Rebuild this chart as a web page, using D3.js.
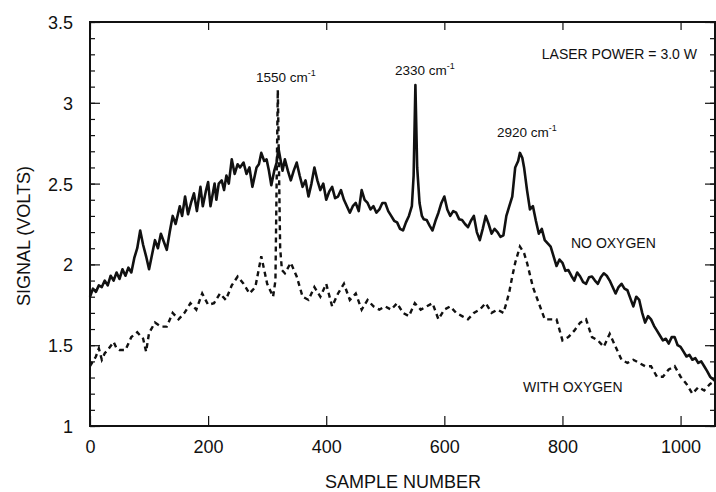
<!DOCTYPE html>
<html>
<head>
<meta charset="utf-8">
<script src="https://cdn.jsdelivr.net/npm/d3@7"></script>
<style>
  body { margin: 0; background: #fff; }
  text { font-family: "Liberation Sans", Arial, sans-serif; fill: #111; }
</style>
</head>
<body>
<div id="chart"></div>
<script>
// values
const noOxygenSamples = [0,5,10,15,20,25,30,35,40,45,50,55,60,65,70,75,80,85,90,95,100,105,110,115,120,125,130,135,140,145,152,156,161,166,171,176,181,187,191,196,200,204,211,214,218,223,227,231,235,240,245,250,254,260,265,270,275,282,286,290,295,299,303,307,312,316,319,322,326,330,335,340,345,350,355,360,365,370,375,380,385,390,395,400,405,410,415,420,425,430,435,440,445,450,455,460,465,470,475,480,485,490,495,500,505,510,515,520,525,530,535,540,545,548,551,554,558,562,565,570,575,580,585,590,595,600,605,610,615,620,625,630,635,640,645,650,655,660,665,670,675,680,685,690,695,700,705,710,715,720,725,728,732,735,740,745,750,755,760,765,770,775,780,785,790,795,800,805,810,815,820,825,830,835,840,845,850,855,860,865,870,875,880,885,890,895,900,905,910,915,920,925,930,935,940,945,950,955,960,965,970,975,980,985,990,995,1000,1005,1010,1015,1020,1025,1030,1035,1040,1045,1050,1055,1058];
const noOxygenSignal = [1.80,1.85,1.83,1.87,1.86,1.90,1.87,1.93,1.90,1.95,1.91,1.97,1.93,1.98,1.95,2.04,2.10,2.21,2.12,2.05,1.97,2.06,2.15,2.10,2.19,2.14,2.09,2.20,2.30,2.25,2.36,2.30,2.42,2.31,2.38,2.44,2.33,2.48,2.36,2.45,2.51,2.36,2.50,2.40,2.50,2.52,2.46,2.55,2.50,2.65,2.56,2.62,2.60,2.63,2.56,2.60,2.48,2.60,2.62,2.69,2.64,2.65,2.58,2.49,2.58,2.63,2.72,2.66,2.58,2.65,2.58,2.52,2.58,2.63,2.55,2.48,2.52,2.42,2.50,2.60,2.52,2.46,2.50,2.40,2.45,2.48,2.41,2.42,2.46,2.40,2.36,2.32,2.36,2.38,2.33,2.46,2.40,2.38,2.34,2.36,2.32,2.34,2.38,2.38,2.33,2.30,2.27,2.26,2.22,2.21,2.26,2.30,2.36,2.55,3.11,2.60,2.38,2.30,2.28,2.275,2.24,2.21,2.27,2.32,2.38,2.42,2.34,2.30,2.33,2.32,2.28,2.275,2.25,2.23,2.27,2.30,2.20,2.15,2.22,2.30,2.25,2.19,2.22,2.20,2.17,2.18,2.30,2.36,2.42,2.60,2.64,2.69,2.66,2.60,2.46,2.34,2.36,2.27,2.19,2.22,2.15,2.13,2.11,2.05,1.99,2.03,2.01,1.96,1.965,1.93,1.90,1.95,1.925,1.89,1.88,1.92,1.925,1.90,1.88,1.92,1.945,1.93,1.90,1.86,1.82,1.86,1.88,1.85,1.84,1.79,1.74,1.80,1.78,1.70,1.64,1.68,1.66,1.62,1.59,1.56,1.53,1.54,1.51,1.55,1.55,1.50,1.49,1.46,1.43,1.44,1.41,1.42,1.39,1.40,1.37,1.34,1.305,1.29,1.28];

const withOxygenSamples = [0,5,10,15,20,25,30,40,45,50,60,70,80,90,95,100,110,120,130,140,150,160,170,180,190,200,210,220,230,240,250,260,270,280,290,300,310,314,316,318,320,322,325,330,340,350,360,370,380,390,400,410,420,430,440,450,460,470,480,490,500,510,520,530,540,550,560,570,580,590,600,610,620,630,640,650,660,670,680,690,700,705,710,715,720,728,735,740,750,760,770,780,790,800,810,820,830,840,850,860,870,880,890,900,910,920,930,940,950,960,970,980,990,1000,1010,1020,1030,1040,1050,1058];
const withOxygenSignal = [1.37,1.40,1.43,1.48,1.41,1.45,1.47,1.52,1.48,1.47,1.47,1.55,1.58,1.54,1.46,1.575,1.64,1.615,1.615,1.70,1.66,1.70,1.76,1.72,1.82,1.75,1.76,1.82,1.78,1.87,1.925,1.88,1.82,1.86,2.05,1.88,1.80,1.90,2.5,3.08,2.6,2.1,1.965,1.945,2.01,1.925,1.80,1.78,1.86,1.80,1.88,1.74,1.82,1.88,1.78,1.82,1.72,1.78,1.74,1.72,1.74,1.72,1.76,1.70,1.68,1.76,1.72,1.74,1.76,1.66,1.72,1.74,1.70,1.68,1.66,1.70,1.72,1.76,1.70,1.72,1.70,1.76,1.83,1.925,2.01,2.11,2.07,2.01,1.86,1.76,1.66,1.66,1.66,1.53,1.55,1.59,1.64,1.66,1.55,1.53,1.49,1.57,1.49,1.41,1.39,1.41,1.39,1.37,1.37,1.305,1.305,1.35,1.37,1.305,1.26,1.20,1.24,1.22,1.26,1.28];

const xTicks = [0, 200, 400, 600, 800, 1000];
const yTicks = [1, 1.5, 2, 2.5, 3, 3.5];

const width = 716, height = 492;
const margin = {top: 22, right: 0, bottom: 66, left: 90};

const x = d3.scaleLinear().domain([0, 1060]).range([margin.left, width - margin.right]);
const y = d3.scaleLinear().domain([1, 3.5]).range([height - margin.bottom, margin.top]);

const svg = d3.select("#chart").append("svg")
  .attr("width", width)
  .attr("height", height);

const minorY = d3.range(1, 3.51, 0.1);

// left axis, ticks point inside
svg.append("g")
  .attr("transform", `translate(${margin.left},0)`)
  .call(d3.axisLeft(y).tickValues(minorY).tickSize(-5).tickFormat(""))
  .call(g => g.select(".domain").remove());
svg.append("g")
  .attr("transform", `translate(${margin.left},0)`)
  .call(d3.axisLeft(y).tickValues(yTicks).tickSize(-10).tickPadding(17).tickFormat(d => d))
  .call(g => g.select(".domain").remove())
  .call(g => g.selectAll("text").attr("font-size", 18).attr("dy", "0.36em"));

// right axis
svg.append("g")
  .attr("transform", `translate(${width - margin.right - 1},0)`)
  .call(d3.axisRight(y).tickValues(minorY).tickSize(-5).tickFormat(""))
  .call(g => g.select(".domain").remove());
svg.append("g")
  .attr("transform", `translate(${width - margin.right - 1},0)`)
  .call(d3.axisRight(y).tickValues(yTicks).tickSize(-10).tickFormat(""))
  .call(g => g.select(".domain").remove());

// bottom + top
svg.append("g")
  .attr("transform", `translate(0,${height - margin.bottom})`)
  .call(d3.axisBottom(x).tickValues(xTicks).tickSize(-10).tickPadding(14).tickFormat(d => d))
  .call(g => g.select(".domain").remove())
  .call(g => g.selectAll("text").attr("font-size", 18));
svg.append("g")
  .attr("transform", `translate(0,${margin.top})`)
  .call(d3.axisTop(x).tickValues(xTicks).tickSize(-8).tickFormat(""))
  .call(g => g.select(".domain").remove());

svg.selectAll(".tick line").attr("stroke", "#111").attr("stroke-width", 1.2);

// frame
svg.append("rect")
  .attr("x", margin.left)
  .attr("y", margin.top)
  .attr("width", width - margin.right - margin.left - 1)
  .attr("height", height - margin.bottom - margin.top)
  .attr("fill", "none")
  .attr("stroke", "#111")
  .attr("stroke-width", 2);

const line = d3.line()
  .x(d => x(d[0]))
  .y(d => y(d[1]));

svg.append("path")
  .datum(noOxygenSamples.map((s, i) => [s, noOxygenSignal[i]]))
  .attr("d", line)
  .attr("fill", "none")
  .attr("stroke", "#111")
  .attr("stroke-width", 2.6)
  .attr("stroke-linejoin", "round");

svg.append("path")
  .datum(withOxygenSamples.map((s, i) => [s, withOxygenSignal[i]]))
  .attr("d", line)
  .attr("fill", "none")
  .attr("stroke", "#111")
  .attr("stroke-width", 2.4)
  .attr("stroke-dasharray", "5,4");

// axis titles
svg.append("text")
  .attr("x", (margin.left + width) / 2)
  .attr("y", 488)
  .attr("text-anchor", "middle")
  .attr("font-size", 18)
  .text("SAMPLE NUMBER");

svg.append("text")
  .attr("transform", `translate(30,${(margin.top + height - margin.bottom) / 2 + 12}) rotate(-90)`)
  .attr("text-anchor", "middle")
  .attr("font-size", 18)
  .text("SIGNAL (VOLTS)");

// annotations
svg.append("text")
  .attr("x", 697).attr("y", 59)
  .attr("text-anchor", "end")
  .attr("font-size", 14)
  .text("LASER POWER = 3.0 W");

const peaks = [
  {label: "1550 cm", px: 256, py: 82},
  {label: "2330 cm", px: 395, py: 75},
  {label: "2920 cm", px: 497, py: 137}
];
peaks.forEach(p => {
  const t = svg.append("text")
    .attr("x", p.px).attr("y", p.py)
    .attr("font-size", 13.5);
  t.append("tspan").text(p.label);
  t.append("tspan").attr("dy", -6).attr("font-size", 9).text("-1");
});

svg.append("text")
  .attr("x", 571).attr("y", 248)
  .attr("font-size", 14)
  .text("NO OXYGEN");

svg.append("text")
  .attr("x", 523).attr("y", 392)
  .attr("font-size", 14)
  .text("WITH OXYGEN");
</script>
</body>
</html>
